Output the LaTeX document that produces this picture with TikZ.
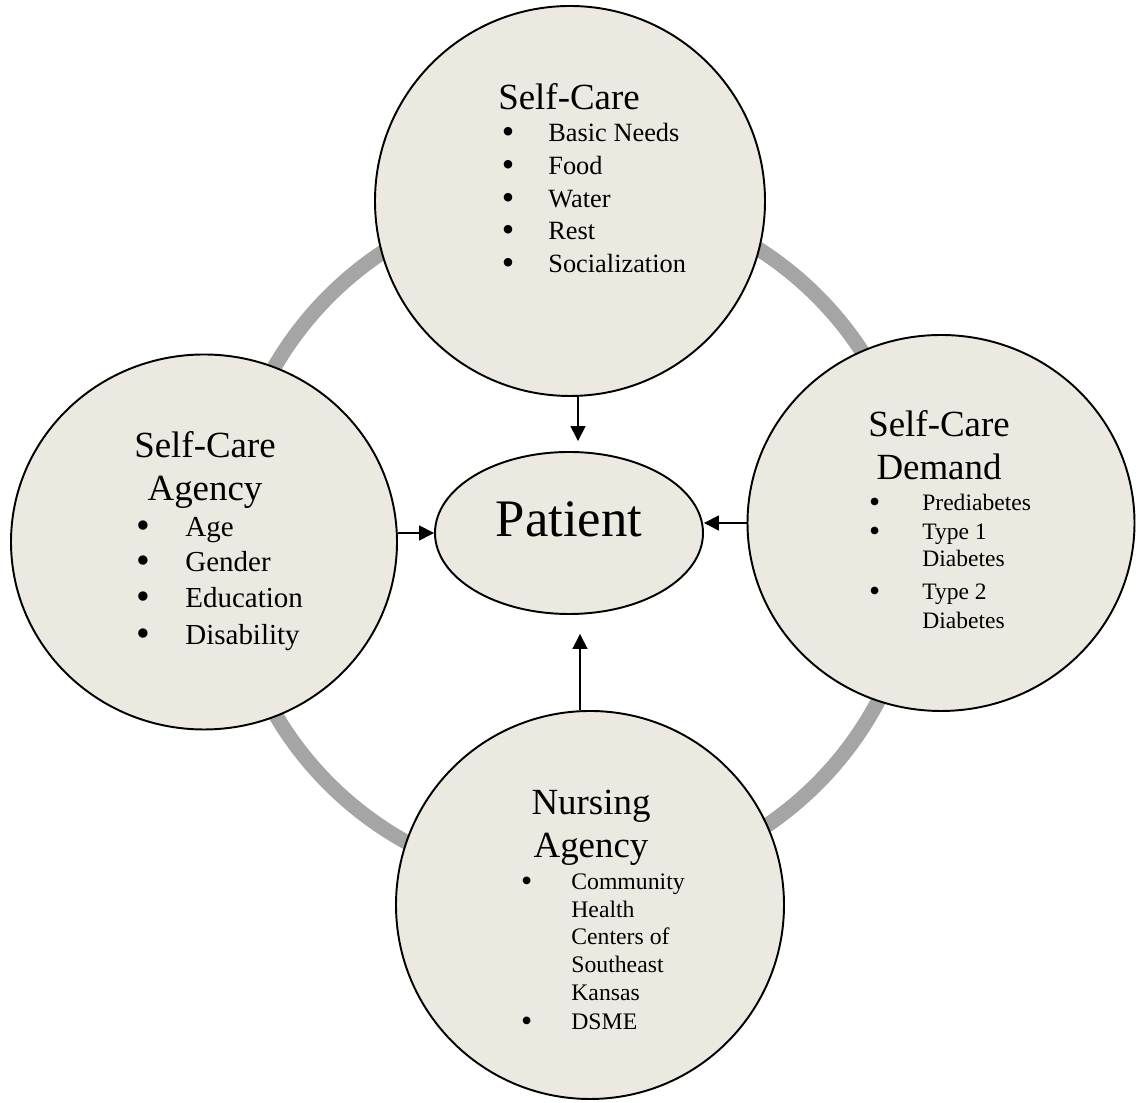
\documentclass[tikz,border=0pt]{standalone}
\usepackage{fontspec}
\setmainfont{Liberation Serif}
\usetikzlibrary{shapes.geometric,arrows.meta}

\definecolor{paper}{RGB}{236,234,224}
\definecolor{ringgray}{RGB}{165,165,165}

% bullet hanging left of an item, #1 = gap before the text
\newcommand{\bul}[1]{\llap{\raisebox{-0.06em}{\scalebox{1.35}{\textbullet}}\hspace{#1}}}

\begin{document}
\begin{tikzpicture}[link/.style={line width=0.9pt,-{Triangle[length=0.3cm,width=0.3cm]}}]

        \useasboundingbox (0,0) rectangle (22.74,22.06);

        % grey ring behind the four circles
        \draw[ringgray,line width=8.5pt] (11.46,11.26) circle (6.9);

        \begin{scope}[every node/.style={ellipse,draw,fill=paper,line width=1.1pt,inner sep=0pt}]
          \node[minimum width=7.8cm,minimum height=7.8cm]   (care)    at (11.40,18.04) {};
          \node[minimum width=7.72cm,minimum height=7.5cm]  (agency)  at (4.08,11.22)  {};
          \node[minimum width=7.74cm,minimum height=7.52cm] (demand)  at (18.82,11.60) {};
          \node[minimum width=7.76cm,minimum height=7.76cm] (nursing) at (11.80,3.96)  {};
          \node[minimum width=5.36cm,minimum height=3.24cm,text depth=0.56cm,
                font=\fontsize{30}{36}\selectfont]          (patient) at (11.38,11.40) {Patient};
        \end{scope}

        \draw[link] ([xshift=0.16cm]care.south) -- ([xshift=0.18cm,yshift=0.2cm]patient.north);
        \draw[link] (agency.east |- patient.west) -- (patient.west);
        \draw[link] (demand.west) -- (demand.west -| patient.east);
        \draw[link] ([xshift=-0.2cm]nursing.north) -- ([xshift=0.22cm,yshift=-0.38cm]patient.south);

        % base of a two-line title sits on its last line
        \begin{scope}[every node/.style={align=center,anchor=base,font=\fontsize{21}{24.5}\selectfont}]
          \node (careTitle)    at (11.38,19.86) {Self-Care};
          \node (agencyTitle)  at (4.10,12.04)  {Self-Care\\Agency};
          \node (demandTitle)  at (18.78,12.46) {Self-Care\\Demand};
          \node (nursingTitle) at (11.82,4.90)  {Nursing\\Agency};
        \end{scope}

        \begin{scope}[every node/.style={anchor=base west,inner sep=0pt,font=\fontsize{15}{18}\selectfont}]
          \node (needs)  at (10.96,19.22) {\bul{0.68cm}Basic Needs};
          \node (food)   at (10.96,18.56) {\bul{0.68cm}Food};
          \node (water)  at (10.96,17.90) {\bul{0.68cm}Water};
          \node (rest)   at (10.96,17.26) {\bul{0.68cm}Rest};
          \node (social) at (10.96,16.60) {\bul{0.68cm}Socialization};
        \end{scope}

        \begin{scope}[every node/.style={anchor=base west,inner sep=0pt,font=\fontsize{16.5}{20}\selectfont}]
          \node (age)        at (3.70,11.32) {\bul{0.7cm}Age};
          \node (gender)     at (3.70,10.62) {\bul{0.7cm}Gender};
          \node (education)  at (3.70,9.90)  {\bul{0.7cm}Education};
          \node (disability) at (3.70,9.16)  {\bul{0.7cm}Disability};
        \end{scope}

        \begin{scope}[every node/.style={anchor=base west,inner sep=0pt,font=\fontsize{13.4}{16}\selectfont}]
          \node (pre)    at (18.44,11.84) {\bul{0.84cm}Prediabetes};
          \node (typeA)  at (18.44,11.26) {\bul{0.84cm}Type 1};
          \node (diabA)  at (18.44,10.72) {Diabetes};
          \node (typeB)  at (18.44,10.06) {\bul{0.84cm}Type 2};
          \node (diabB)  at (18.44,9.48)  {Diabetes};
        \end{scope}

        \begin{scope}[every node/.style={anchor=base west,inner sep=0pt,font=\fontsize{13.5}{16}\selectfont}]
          \node (community) at (11.42,4.26) {\bul{0.78cm}Community};
          \node (health)    at (11.42,3.70) {Health};
          \node (centers)   at (11.42,3.16) {Centers of};
          \node (southeast) at (11.42,2.60) {Southeast};
          \node (kansas)    at (11.42,2.04) {Kansas};
          \node (dsme)      at (11.42,1.46) {\bul{0.78cm}DSME};
        \end{scope}

      \end{tikzpicture}
\end{document}
